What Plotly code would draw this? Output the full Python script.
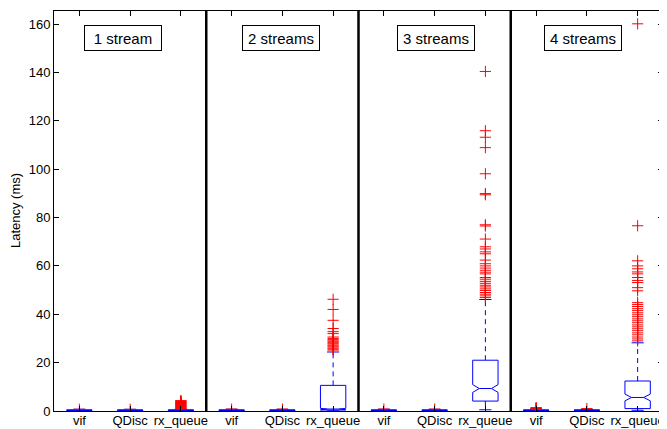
import plotly.graph_objects as go

# ---------------- data ----------------
tick_labels = ["vif", "QDisc", "rx_queue"] * 4
panel_labels = ["1 stream", "2 streams", "3 streams", "4 streams"]
positions = [1, 2, 3, 4, 5, 6, 7, 8, 9, 10, 11, 12]

q1 = [0.15, 0.15, 0.15, 0.15, 0.15, 0.4, 0.15, 0.15, 4.1, 0.15, 0.15, 1.0]
median = [0.3, 0.3, 0.3, 0.3, 0.3, 0.8, 0.3, 0.3, 9.3, 0.3, 0.3, 5.6]
q3 = [0.45, 0.45, 0.45, 0.45, 0.45, 10.6, 0.45, 0.45, 21.0, 0.45, 0.45, 12.4]
lower = [0.05, 0.05, 0.05, 0.05, 0.05, 0.1, 0.05, 0.05, 0.5, 0.05, 0.05, 0.3]
upper = [0.75, 0.7, 0.75, 0.75, 0.7, 24.4, 0.75, 0.7, 46.1, 0.8, 0.7, 28.2]
notch = [0.02, 0.02, 0.02, 0.02, 0.02, 0.3, 0.02, 0.02, 1.6, 0.02, 0.02, 1.4]

out_vif_1 = [0.7]
out_qdisc_1 = [0.7]
out_rxq_1 = [0.7, 0.9, 1.1, 1.3, 1.5, 1.7, 1.9, 2.1, 2.3, 2.5, 2.7, 2.9,
             3.1, 3.3, 3.5, 3.7, 3.9, 4.1, 4.3]
out_vif_2 = [0.8]
out_qdisc_2 = [0.8]
out_rxq_2 = [46.2, 42.0, 37.5, 34.1, 32.8, 32.0, 30.6, 30.0, 29.5, 29.0,
             28.6, 28.2, 27.8, 27.3, 26.9, 26.5, 26.0, 25.6, 25.2]
out_vif_3 = [0.8]
out_qdisc_3 = [0.8]
out_rxq_3 = [140.4, 115.9, 113.2, 108.9, 98.1, 89.9, 89.4, 77.0, 76.5, 71.1,
             67.9, 67.0, 65.8, 65.0, 62.4, 60.9, 60.0, 59.1, 58.2, 57.4, 56.7,
             55.2, 54.5, 53.6, 52.8, 52.0, 51.3, 50.5, 49.8, 49.0, 48.3, 47.6,
             46.9]
out_vif_4 = [0.6, 0.8, 1.0, 1.2, 1.4]
out_qdisc_4 = [1.0]
out_rxq_4 = [160.1, 76.6, 62.1, 60.0, 58.8, 57.5, 56.7, 55.2, 54.0, 53.1,
             51.0, 49.7, 44.8, 44.0, 43.2, 42.3, 41.5, 40.6, 39.8, 39.0, 38.1,
             37.3, 36.5, 35.6, 34.8, 34.0, 33.2, 32.3, 31.5, 30.6, 29.8, 29.0]

outliers = [out_vif_1, out_qdisc_1, out_rxq_1, out_vif_2, out_qdisc_2, out_rxq_2,
            out_vif_3, out_qdisc_3, out_rxq_3, out_vif_4, out_qdisc_4, out_rxq_4]

# label placement (data coords)
panel_label_x = [1.86, 4.98, 8.02, 10.93]
panel_label_y = 154.1

BLUE = "rgb(0,0,255)"
RED = "rgb(255,0,0)"
FONT = "Liberation Sans, Arial, Helvetica, sans-serif"

fig = go.Figure()

# boxes (whiskers drawn separately, dashed)
fig.add_trace(go.Box(
    x=positions, q1=q1, median=median, q3=q3,
    lowerfence=q1, upperfence=q3,
    notched=True, notchspan=notch, notchwidth=0.26,
    width=0.5, whiskerwidth=0,
    line=dict(color=BLUE, width=1), fillcolor="rgba(0,0,0,0)",
    boxpoints=False, hoverinfo="skip", showlegend=False,
))

# whiskers
wx, wy = [], []
cx, cy = [], []
for p, a, b, lo, hi in zip(positions, q1, q3, lower, upper):
    wx += [p, p, None, p, p, None]
    wy += [b, hi, None, a, lo, None]
    cx += [p - 0.12, p + 0.12, None, p - 0.12, p + 0.12, None]
    cy += [hi, hi, None, lo, lo, None]
fig.add_trace(go.Scatter(x=wx, y=wy, mode="lines",
                         line=dict(color=BLUE, width=1, dash="5px,4px"),
                         showlegend=False, hoverinfo="skip"))
fig.add_trace(go.Scatter(x=cx, y=cy, mode="lines",
                         line=dict(color=BLUE, width=1),
                         showlegend=False, hoverinfo="skip"))

# outliers
ox, oy = [], []
for p, vals in zip(positions, outliers):
    ox += [p] * len(vals)
    oy += vals
fig.add_trace(go.Scatter(x=ox, y=oy, mode="markers",
                         marker=dict(symbol="cross-thin", size=8,
                                     line=dict(color=RED, width=1), color=RED),
                         showlegend=False, hoverinfo="skip"))

# separators between panels
for s in [3.5, 6.5, 9.5]:
    fig.add_shape(type="line", xref="x", yref="paper", x0=s, x1=s, y0=0, y1=1,
                  line=dict(color="black", width=2.5), layer="above")

# panel labels
for lx, txt in zip(panel_label_x, panel_labels):
    fig.add_annotation(x=lx, y=panel_label_y, xref="x", yref="y", text=txt,
                       showarrow=False, font=dict(family=FONT, size=15, color="black"),
                       bordercolor="black", borderwidth=1, borderpad=1,
                       bgcolor="white", width=74, height=22)

# y-axis title
fig.add_annotation(x=-0.064, y=0.5, xref="paper", yref="paper",
                   xanchor="center", yanchor="middle",
                   text="Latency (ms)", textangle=-90, showarrow=False,
                   font=dict(family=FONT, size=13, color="black"))

# the page body has an 8px margin: size the figure so the plot lands where
# the reference has it inside the 667x429 window
fig.update_layout(
    width=659, height=421,
    margin=dict(l=46, r=4, t=3, b=18),
    paper_bgcolor="white", plot_bgcolor="white",
    font=dict(family=FONT, size=13, color="black"),
    showlegend=False,
)
fig.update_xaxes(range=[0.5, 12.5], tickvals=positions, ticktext=tick_labels,
                 showgrid=False, zeroline=False, showline=True, linecolor="black",
                 linewidth=1, mirror="ticks", ticks="inside", ticklen=5,
                 tickcolor="black", automargin=False, ticklabelstandoff=-3,
                 tickfont=dict(family=FONT, size=13, color="black"))
fig.update_yaxes(range=[0, 165.4], tickvals=[0, 20, 40, 60, 80, 100, 120, 140, 160],
                 showgrid=False, zeroline=False, showline=True, linecolor="black",
                 linewidth=1, mirror="ticks", ticks="inside", ticklen=5,
                 tickcolor="black", automargin=False,
                 tickfont=dict(family=FONT, size=13, color="black"))

fig.write_html("out.html")
